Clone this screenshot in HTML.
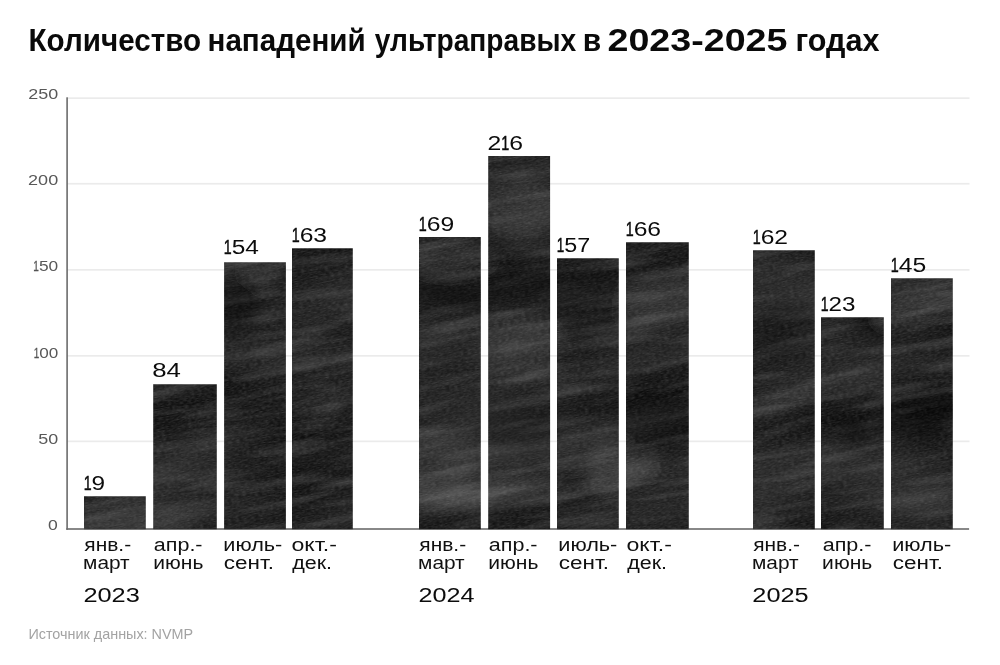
<!DOCTYPE html>
<html lang="ru"><head><meta charset="utf-8"><title>Количество нападений ультраправых</title>
<style>
html,body{margin:0;padding:0;background:#fff}
body{width:1000px;height:665px;overflow:hidden}
svg{display:block;font-family:"Liberation Sans",Arial,sans-serif}
.t{font-weight:700;font-size:30.6px;fill:#0a0a0a}
.td{font-size:31.7px}
.yl{font-size:15px;fill:#585858}
.v{font-size:20px;fill:#0c0c0c}
.x{font-size:18.3px;fill:#111}
.yr{font-size:20px;fill:#0c0c0c}
.v .n1{stroke:#0c0c0c;stroke-width:.5px}
.yl .n1{stroke:#4a4a4a;stroke-width:.3px}
.src{font-size:14.5px;fill:#a3a3a3}
</style></head><body>
<svg width="1000" height="665" viewBox="0 0 1000 665">
<defs>
<filter id="chalk" x="0" y="0" width="100%" height="100%" color-interpolation-filters="sRGB">
<feTurbulence type="fractalNoise" baseFrequency="0.005 0.016" numOctaves="2" seed="7" result="n1"/>
<feColorMatrix in="n1" type="matrix" values="0.26 0 0 0 -0.02  0.26 0 0 0 -0.02  0.26 0 0 0 -0.02  0 0 0 0 1" result="g1"/>
<feTurbulence type="fractalNoise" baseFrequency="0.012 0.09" numOctaves="3" seed="23" result="n3"/>
<feColorMatrix in="n3" type="matrix" values="0 0 0 0 0.36  0 0 0 0 0.36  0 0 0 0 0.36  1.1 0 0 0 -0.50" result="g3"/>
<feTurbulence type="fractalNoise" baseFrequency="0.25 0.85" numOctaves="2" seed="11" result="n2"/>
<feColorMatrix in="n2" type="matrix" values="0 0 0 0 0.55  0 0 0 0 0.55  0 0 0 0 0.55  0.5 0 0 0 -0.17" result="g2"/>
<feMerge><feMergeNode in="g1"/><feMergeNode in="g3"/><feMergeNode in="g2"/></feMerge>
</filter>
<filter id="soft" x="-5%" y="-5%" width="110%" height="110%"><feGaussianBlur stdDeviation="7"/></filter>
<clipPath id="bars">
<rect x="84" y="496.2" width="61.8" height="33.1"/>
<rect x="153.2" y="384.2" width="63.6" height="145.1"/>
<rect x="224.1" y="262.2" width="61.8" height="267.1"/>
<rect x="292" y="248.2" width="60.8" height="281.1"/>
<rect x="419" y="237.0" width="61.8" height="292.3"/>
<rect x="488.2" y="156.0" width="61.9" height="373.3"/>
<rect x="557" y="258.2" width="61.8" height="271.1"/>
<rect x="626" y="242.2" width="62.8" height="287.1"/>
<rect x="753" y="250.2" width="61.8" height="279.1"/>
<rect x="821" y="317.2" width="62.8" height="212.1"/>
<rect x="891" y="278.2" width="61.8" height="251.1"/>
</clipPath>
</defs>
<rect width="1000" height="665" fill="#fff"/>

<rect x="67" y="97.3" width="902.5" height="1.7" fill="#ebebeb"/>
<rect x="67" y="182.9" width="902.5" height="1.7" fill="#ebebeb"/>
<rect x="67" y="269.0" width="902.5" height="1.7" fill="#ebebeb"/>
<rect x="67" y="355.0" width="902.5" height="1.7" fill="#ebebeb"/>
<rect x="67" y="440.5" width="902.5" height="1.7" fill="#ebebeb"/>
<rect x="66.3" y="97.3" width="1.6" height="432.5" fill="#6c6c6c"/>
<rect x="66.3" y="528.2" width="902.8" height="1.6" fill="#6c6c6c"/>
<g clip-path="url(#bars)"><rect x="-150" y="-150" width="1300" height="1000" fill="#282828" filter="url(#chalk)" transform="rotate(-11 500 330)"/><g filter="url(#soft)"><ellipse cx="115" cy="512" rx="40" ry="18" fill="#fff" opacity="0.04" transform="rotate(0 115 512)"/><ellipse cx="185" cy="391" rx="40" ry="6" fill="#fff" opacity="0.1" transform="rotate(-3 185 391)"/><ellipse cx="190" cy="512" rx="35" ry="6" fill="#fff" opacity="0.1" transform="rotate(-12 190 512)"/><ellipse cx="240" cy="300" rx="22" ry="30" fill="#000" opacity="0.3" transform="rotate(20 240 300)"/><ellipse cx="265" cy="275" rx="25" ry="14" fill="#fff" opacity="0.06" transform="rotate(0 265 275)"/><ellipse cx="322" cy="400" rx="40" ry="12" fill="#fff" opacity="0.06" transform="rotate(-15 322 400)"/><ellipse cx="450" cy="255" rx="40" ry="18" fill="#fff" opacity="0.09" transform="rotate(0 450 255)"/><ellipse cx="445" cy="292" rx="50" ry="14" fill="#000" opacity="0.35" transform="rotate(14 445 292)"/><ellipse cx="440" cy="470" rx="34" ry="40" fill="#fff" opacity="0.07" transform="rotate(0 440 470)"/><ellipse cx="485" cy="492" rx="80" ry="9" fill="#fff" opacity="0.14" transform="rotate(-6 485 492)"/><ellipse cx="519" cy="210" rx="40" ry="28" fill="#fff" opacity="0.09" transform="rotate(-8 519 210)"/><ellipse cx="519" cy="350" rx="40" ry="30" fill="#fff" opacity="0.07" transform="rotate(-10 519 350)"/><ellipse cx="519" cy="285" rx="40" ry="20" fill="#000" opacity="0.25" transform="rotate(0 519 285)"/><ellipse cx="519" cy="430" rx="40" ry="25" fill="#000" opacity="0.2" transform="rotate(0 519 430)"/><ellipse cx="588" cy="300" rx="40" ry="40" fill="#000" opacity="0.18" transform="rotate(0 588 300)"/><ellipse cx="610" cy="470" rx="22" ry="30" fill="#fff" opacity="0.1" transform="rotate(0 610 470)"/><ellipse cx="640" cy="470" rx="20" ry="12" fill="#fff" opacity="0.16" transform="rotate(-20 640 470)"/><ellipse cx="657" cy="300" rx="40" ry="25" fill="#fff" opacity="0.06" transform="rotate(-15 657 300)"/><ellipse cx="657" cy="420" rx="40" ry="30" fill="#000" opacity="0.2" transform="rotate(0 657 420)"/><ellipse cx="784" cy="400" rx="45" ry="12" fill="#fff" opacity="0.1" transform="rotate(-18 784 400)"/><ellipse cx="784" cy="330" rx="40" ry="30" fill="#000" opacity="0.12" transform="rotate(0 784 330)"/><ellipse cx="872" cy="325" rx="16" ry="10" fill="#000" opacity="0.4" transform="rotate(30 872 325)"/><ellipse cx="855" cy="432" rx="18" ry="12" fill="#000" opacity="0.35" transform="rotate(20 855 432)"/><ellipse cx="852" cy="380" rx="40" ry="10" fill="#fff" opacity="0.08" transform="rotate(-15 852 380)"/><ellipse cx="922" cy="305" rx="45" ry="16" fill="#fff" opacity="0.12" transform="rotate(-15 922 305)"/><ellipse cx="922" cy="415" rx="45" ry="22" fill="#000" opacity="0.3" transform="rotate(-8 922 415)"/><ellipse cx="922" cy="500" rx="40" ry="10" fill="#fff" opacity="0.08" transform="rotate(-10 922 500)"/></g></g>
<text class="yl" x="28.30" y="98.5"><tspan textLength="29.90" lengthAdjust="spacingAndGlyphs">250</tspan></text>
<text class="yl" x="28.09" y="185.2"><tspan textLength="30.11" lengthAdjust="spacingAndGlyphs">200</tspan></text>
<text class="yl" x="33.34" y="271.0"><tspan class="n1" textLength="5.58" lengthAdjust="spacingAndGlyphs">1</tspan><tspan textLength="19.26" lengthAdjust="spacingAndGlyphs">50</tspan></text>
<text class="yl" x="33.64" y="358.1"><tspan class="n1" textLength="5.51" lengthAdjust="spacingAndGlyphs">1</tspan><tspan textLength="19.01" lengthAdjust="spacingAndGlyphs">00</tspan></text>
<text class="yl" x="38.28" y="444.2"><tspan textLength="19.92" lengthAdjust="spacingAndGlyphs">50</tspan></text>
<text class="yl" x="48.11" y="529.7"><tspan textLength="9.77" lengthAdjust="spacingAndGlyphs">0</tspan></text>
<text class="v" x="83.72" y="489.8"><tspan class="n1" textLength="7.87" lengthAdjust="spacingAndGlyphs">1</tspan><tspan textLength="13.57" lengthAdjust="spacingAndGlyphs">9</tspan></text>
<text class="v" x="152.28" y="377.0"><tspan textLength="28.68" lengthAdjust="spacingAndGlyphs">84</tspan></text>
<text class="v" x="223.82" y="253.8"><tspan class="n1" textLength="7.89" lengthAdjust="spacingAndGlyphs">1</tspan><tspan textLength="27.21" lengthAdjust="spacingAndGlyphs">54</tspan></text>
<text class="v" x="291.71" y="241.8"><tspan class="n1" textLength="7.95" lengthAdjust="spacingAndGlyphs">1</tspan><tspan textLength="27.42" lengthAdjust="spacingAndGlyphs">63</tspan></text>
<text class="v" x="418.71" y="230.8"><tspan class="n1" textLength="7.97" lengthAdjust="spacingAndGlyphs">1</tspan><tspan textLength="27.49" lengthAdjust="spacingAndGlyphs">69</tspan></text>
<text class="v" x="487.55" y="149.8"><tspan textLength="13.77" lengthAdjust="spacingAndGlyphs">2</tspan><tspan class="n1" textLength="7.99" lengthAdjust="spacingAndGlyphs">1</tspan><tspan textLength="13.77" lengthAdjust="spacingAndGlyphs">6</tspan></text>
<text class="v" x="556.77" y="252.0"><tspan class="n1" textLength="7.51" lengthAdjust="spacingAndGlyphs">1</tspan><tspan textLength="25.89" lengthAdjust="spacingAndGlyphs">57</tspan></text>
<text class="v" x="625.71" y="235.8"><tspan class="n1" textLength="7.95" lengthAdjust="spacingAndGlyphs">1</tspan><tspan textLength="27.42" lengthAdjust="spacingAndGlyphs">66</tspan></text>
<text class="v" x="752.71" y="243.8"><tspan class="n1" textLength="7.94" lengthAdjust="spacingAndGlyphs">1</tspan><tspan textLength="27.38" lengthAdjust="spacingAndGlyphs">62</tspan></text>
<text class="v" x="820.73" y="310.8"><tspan class="n1" textLength="7.81" lengthAdjust="spacingAndGlyphs">1</tspan><tspan textLength="26.92" lengthAdjust="spacingAndGlyphs">23</tspan></text>
<text class="v" x="890.71" y="271.8"><tspan class="n1" textLength="7.99" lengthAdjust="spacingAndGlyphs">1</tspan><tspan textLength="27.55" lengthAdjust="spacingAndGlyphs">45</tspan></text>
<text class="x"><tspan x="84.33" y="550.9" textLength="46.80" lengthAdjust="spacingAndGlyphs">янв.-</tspan><tspan x="83.07" y="569.4" textLength="46.58" lengthAdjust="spacingAndGlyphs">март</tspan></text>
<text class="x"><tspan x="153.79" y="550.9" textLength="48.77" lengthAdjust="spacingAndGlyphs">апр.-</tspan><tspan x="153.24" y="569.4" textLength="50.12" lengthAdjust="spacingAndGlyphs">июнь</tspan></text>
<text class="x"><tspan x="223.31" y="550.9" textLength="59.05" lengthAdjust="spacingAndGlyphs">июль-</tspan><tspan x="223.89" y="569.4" textLength="50.16" lengthAdjust="spacingAndGlyphs">сент.</tspan></text>
<text class="x"><tspan x="291.48" y="550.9" textLength="45.40" lengthAdjust="spacingAndGlyphs">окт.-</tspan><tspan x="292.19" y="569.4" textLength="39.87" lengthAdjust="spacingAndGlyphs">дек.</tspan></text>
<text class="yr" x="83.43" y="601.8"><tspan textLength="56.39" lengthAdjust="spacingAndGlyphs">2023</tspan></text>
<text class="x"><tspan x="419.33" y="550.9" textLength="46.80" lengthAdjust="spacingAndGlyphs">янв.-</tspan><tspan x="418.07" y="569.4" textLength="46.58" lengthAdjust="spacingAndGlyphs">март</tspan></text>
<text class="x"><tspan x="488.79" y="550.9" textLength="48.77" lengthAdjust="spacingAndGlyphs">апр.-</tspan><tspan x="488.24" y="569.4" textLength="50.12" lengthAdjust="spacingAndGlyphs">июнь</tspan></text>
<text class="x"><tspan x="558.31" y="550.9" textLength="59.05" lengthAdjust="spacingAndGlyphs">июль-</tspan><tspan x="558.89" y="569.4" textLength="50.16" lengthAdjust="spacingAndGlyphs">сент.</tspan></text>
<text class="x"><tspan x="626.48" y="550.9" textLength="45.40" lengthAdjust="spacingAndGlyphs">окт.-</tspan><tspan x="627.19" y="569.4" textLength="39.87" lengthAdjust="spacingAndGlyphs">дек.</tspan></text>
<text class="yr" x="418.43" y="601.8"><tspan textLength="56.00" lengthAdjust="spacingAndGlyphs">2024</tspan></text>
<text class="x"><tspan x="753.23" y="550.9" textLength="46.80" lengthAdjust="spacingAndGlyphs">янв.-</tspan><tspan x="751.97" y="569.4" textLength="46.58" lengthAdjust="spacingAndGlyphs">март</tspan></text>
<text class="x"><tspan x="822.69" y="550.9" textLength="48.77" lengthAdjust="spacingAndGlyphs">апр.-</tspan><tspan x="822.14" y="569.4" textLength="50.12" lengthAdjust="spacingAndGlyphs">июнь</tspan></text>
<text class="x"><tspan x="892.21" y="550.9" textLength="59.05" lengthAdjust="spacingAndGlyphs">июль-</tspan><tspan x="892.79" y="569.4" textLength="50.16" lengthAdjust="spacingAndGlyphs">сент.</tspan></text>
<text class="yr" x="752.33" y="601.8"><tspan textLength="56.34" lengthAdjust="spacingAndGlyphs">2025</tspan></text>
<text class="t"><tspan x="28.54" y="51.2" textLength="172.61" lengthAdjust="spacingAndGlyphs">Количество</tspan> <tspan x="207.53" y="51.2" textLength="158.12" lengthAdjust="spacingAndGlyphs">нападений</tspan> <tspan x="374.78" y="51.2" textLength="201.42" lengthAdjust="spacingAndGlyphs">ультраправых</tspan> <tspan x="582.70" y="51.2" textLength="18.47" lengthAdjust="spacingAndGlyphs">в</tspan> <tspan class="td" x="607.50" y="51.2" textLength="179.95" lengthAdjust="spacingAndGlyphs">2023-2025</tspan> <tspan x="795.49" y="51.2" textLength="83.93" lengthAdjust="spacingAndGlyphs">годах</tspan></text>
<text class="src" x="28.42" y="639.4" textLength="164.73" lengthAdjust="spacingAndGlyphs">Источник данных: NVMP</text>
</svg></body></html>
